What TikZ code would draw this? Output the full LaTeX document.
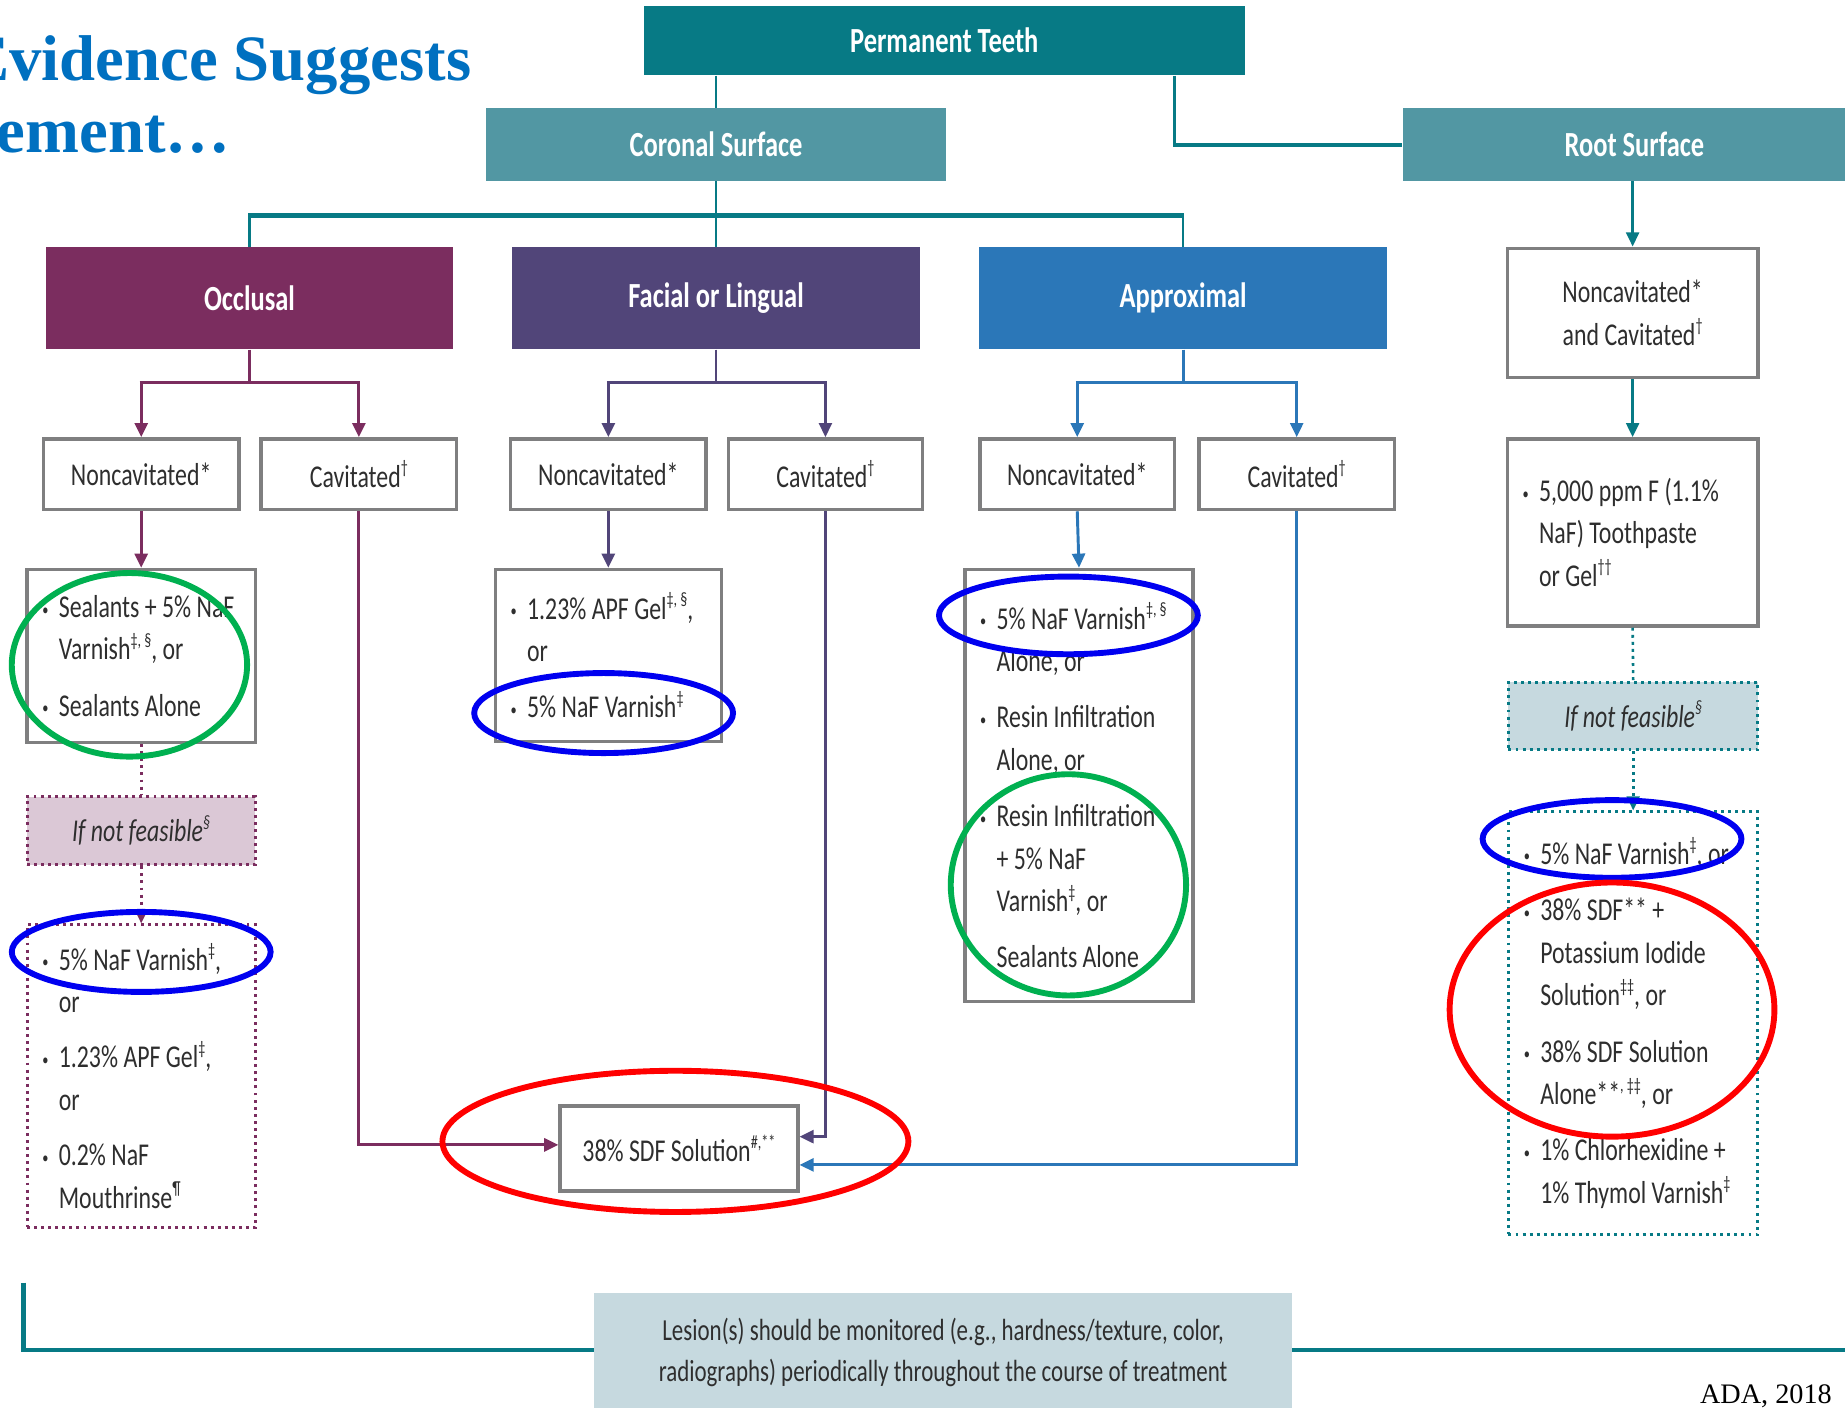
\documentclass[tikz,border=0pt]{standalone}
\usepackage{fontspec}
\usetikzlibrary{arrows.meta,calc}
\newfontfamily\cond{Carlito}[FakeStretch=0.75]
\newfontfamily\titlefont{Liberation Serif}
\definecolor{tealD}{HTML}{077A85}
\definecolor{tealL}{HTML}{5297A3}
\definecolor{cOcc}{HTML}{7B2D5F}
\definecolor{cFac}{HTML}{514579}
\definecolor{cApp}{HTML}{2B77B8}
\definecolor{boxgray}{HTML}{7F7F80}
\definecolor{paleT}{HTML}{C6D9DF}
\definecolor{paleP}{HTML}{DBC8D6}
\definecolor{txt}{HTML}{2E2E2E}
\definecolor{titleblue}{HTML}{0070C0}
\definecolor{ellblue}{HTML}{0000F0}
\definecolor{ellgreen}{HTML}{00B050}
\definecolor{ellred}{HTML}{FF0000}
\newcommand\spr[1]{\raisebox{0.42em}{\fontsize{16}{16}\selectfont #1}}
\newcommand\bul{\makebox[14pt][l]{\raisebox{2pt}{\fontsize{14}{14}\selectfont •}}}
\newcommand\BL[1]{\mbox{\spaceskip=0pt\xspaceskip=0pt\relax\bul#1}}
\newcommand\IL[1]{\mbox{\spaceskip=0pt\xspaceskip=0pt\relax\hspace*{14pt}#1}}
\newcommand\CL[1]{\mbox{\spaceskip=0pt\xspaceskip=0pt\relax#1}}
\tikzset{
  hdr/.style={rectangle, inner sep=0pt, text=white, align=center,
    font=\cond\bfseries\fontsize{30}{30}\selectfont},
  gbox/.style={rectangle, draw=boxgray, line width=3pt, fill=white, inner sep=0pt,
    text=txt, align=center, font=\cond\fontsize{27}{36}\selectfont},
  lbox/.style={gbox, align=left, inner xsep=13pt},
  dotbox/.style={line width=2.5pt, dash pattern=on 2.5pt off 3.5pt},
  tl/.style={draw=tealD, line width=2.2pt},
  tlk/.style={draw=tealD, line width=3.6pt},
  ol/.style={draw=cOcc, line width=2.5pt},
  fl/.style={draw=cFac, line width=2.5pt},
  al/.style={draw=cApp, line width=2.5pt},
  dots/.style={dash pattern=on 2.5pt off 3.5pt},
  arr/.style={-{Triangle[width=11pt,length=12pt]}},
  ell/.style={line width=5pt}
}
\begin{document}
\begin{tikzpicture}[x=1pt,y=-1pt]
\useasboundingbox (0,0) rectangle (1568,1195.8);
\begin{scope}
\clip (0,0) rectangle (1568,1195.8);
\fill[white] (0,0) rectangle (1568,1195.8);

% title
\node[anchor=base west, inner sep=0pt, text=titleblue,
  font=\titlefont\bfseries\fontsize{55}{55}\selectfont] (t1) at (-29,68) {Evidence Suggests};
\node[anchor=base west, inner sep=0pt, text=titleblue,
  font=\titlefont\bfseries\fontsize{55}{55}\selectfont] (t2) at (-3,130) {ement…};

% headers
\node[hdr, fill=tealD, minimum width=511pt, minimum height=59pt] (pt) at (802.5,34.5) {Permanent Teeth};
\node[hdr, fill=tealL, minimum width=391pt, minimum height=62pt] (cor) at (608.5,123) {Coronal Surface};
\node[hdr, fill=tealL, minimum width=394pt, minimum height=62pt] (root) at (1389,123) {Root Surface};
\node[hdr, fill=cOcc, minimum width=346pt, minimum height=87pt] (occ) at (212,253.5) {Occlusal};
\node[hdr, fill=cFac, minimum width=347pt, minimum height=87pt] (fac) at (608.5,253.5) {Facial or Lingual};
\node[hdr, fill=cApp, minimum width=347pt, minimum height=87pt] (app) at (1005.5,253.5) {Approximal};

% level 3
\node[gbox, minimum width=166pt, minimum height=60pt] (on) at (120,403) {Noncavitated*};
\node[gbox, minimum width=166pt, minimum height=60pt] (oc) at (305,403) {Cavitated\spr{†}};
\node[gbox, minimum width=166pt, minimum height=60pt] (fn) at (517,403) {Noncavitated*};
\node[gbox, minimum width=165pt, minimum height=60pt] (fc) at (701.5,403) {Cavitated\spr{†}};
\node[gbox, minimum width=165pt, minimum height=60pt] (an) at (915.5,403) {Noncavitated*};
\node[gbox, minimum width=166pt, minimum height=60pt] (ac) at (1102,403) {Cavitated\spr{†}};

% treatment boxes
\node[lbox, text width=168pt, minimum height=147pt] (ot) at (120,557.5)
  {\BL{Sealants + 5\% NaF}\\\IL{Varnish\spr{‡,\,§}, or}\\[12pt]\BL{Sealants Alone}};
\node[lbox, fill=paleP, draw=cOcc, dotbox, text width=168pt, minimum height=58pt, align=center, inner xsep=13pt] (oif) at (120,706)
  {\itshape\CL{If not feasible\spr{§}}};
\node[lbox, draw=cOcc, dotbox, text width=168pt, minimum height=257pt] (od) at (120,914.5)
  {\BL{5\% NaF Varnish\spr{‡},}\\\IL{or}\\[11pt]\BL{1.23\% APF Gel\spr{‡},}\\\IL{or}\\[11pt]\BL{0.2\% NaF}\\\IL{Mouthrinse\spr{¶}}};
\node[lbox, text width=166pt, minimum height=146pt] (ft) at (517,557)
  {\BL{1.23\% APF Gel\spr{‡,\,§},}\\\IL{or}\\[12pt]\BL{5\% NaF Varnish\spr{‡}}};
\node[lbox, text width=168pt, minimum height=367pt] (at) at (917,667.5)
  {\BL{5\% NaF Varnish\spr{‡,\,§}}\\\IL{Alone, or}\\[12pt]\BL{Resin Infiltration}\\\IL{Alone, or}\\[12pt]\BL{Resin Infiltration}\\\IL{+ 5\% NaF}\\\IL{Varnish\spr{‡}, or}\\[12pt]\IL{Sealants Alone}};
\node[gbox, minimum width=202pt, minimum height=72pt] (sdf) at (577,976) {\CL{38\% SDF Solution\spr{\#,**}}};

% root side
\node[gbox, minimum width=213pt, minimum height=110pt] (rn) at (1387.5,266) {Noncavitated*\\\CL{and Cavitated\spr{†}}};
\node[lbox, text width=187pt, minimum height=159pt] (rt) at (1387.5,452.5)
  {\BL{5,000 ppm F (1.1\%}\\\IL{NaF) Toothpaste}\\\IL{or Gel\spr{††}}};
\node[lbox, fill=paleT, draw=tealD, dotbox, text width=186pt, minimum height=57pt, align=center] (rif) at (1388,608.5)
  {\itshape\CL{If not feasible\spr{§}}};
\node[lbox, draw=tealD, dotbox, text width=186pt, minimum height=359pt] (rd) at (1388,869.5)
  {\BL{5\% NaF Varnish\spr{‡}, or}\\[12pt]\BL{38\% SDF** +}\\\IL{Potassium Iodide}\\\IL{Solution\spr{‡‡}, or}\\[12pt]\BL{38\% SDF Solution}\\\IL{Alone**\spr{,\,‡‡}, or}\\[12pt]\BL{1\% Chlorhexidine +}\\\IL{1\% Thymol Varnish\spr{‡}}};

% teal connectors top
\draw[tl] (pt.south -| cor.north) -- (cor.north);
\coordinate (rj) at ($(pt.south)+(195.5,0)$);
\coordinate (rk) at (rj |- root.west);
\draw[tl] (rj) -- (rk);
\draw[tlk] ($(rk)+(-1.1,0)$) -- (root.west);
\draw[tl] (cor.south) -- (fac.north);
\coordinate (cb) at ($(cor.south)+(0,29)$);
\draw[tlk] ($(cb -| occ.north)+(-1.1,0)$) -- ($(cb -| app.north)+(1.1,0)$);
\draw[tl] (cb -| occ.north) -- (occ.north);
\draw[tl] (cb -| app.north) -- (app.north);

% occlusal branch
\coordinate (ob) at ($(occ.south)+(0,28)$);
\draw[ol] (occ.south) -- (ob);
\draw[ol] ($(ob -| on.north)+(-1.25,0)$) -- ($(ob -| oc.north)+(1.25,0)$);
\draw[ol,arr] (ob -| on.north) -- (on.north);
\draw[ol,arr] (ob -| oc.north) -- (oc.north);
\draw[ol,arr] (on.south) -- (ot.north);
\draw[ol,dots] (ot.south) -- (oif.north);
\draw[ol,dots,arr] (oif.south) -- (od.north);
\draw[ol,arr] (oc.south) |- ($(sdf.west)+(0,-3)$);

% facial branch
\coordinate (fb) at ($(fac.south)+(0,28)$);
\draw[fl] (fac.south) -- (fb);
\draw[fl] ($(fb -| fn.north)+(-1.25,0)$) -- ($(fb -| fc.north)+(1.25,0)$);
\draw[fl,arr] (fb -| fn.north) -- (fn.north);
\draw[fl,arr] (fb -| fc.north) -- (fc.north);
\draw[fl,arr] (fn.south) -- (ft.north);
\draw[fl,arr] (fc.south) |- ($(sdf.east)+(0,-10)$);

% approximal branch
\coordinate (ab) at ($(app.south)+(0,28)$);
\draw[al] (app.south) -- (ab);
\draw[al] ($(ab -| an.north)+(-1.25,0)$) -- ($(ab -| ac.north)+(1.25,0)$);
\draw[al,arr] (ab -| an.north) -- (an.north);
\draw[al,arr] (ab -| ac.north) -- (ac.north);
\draw[al,arr] (an.south) -- (at.north);
\draw[al,arr] (ac.south) |- ($(sdf.east)+(0,14)$);

% root branch
\draw[tl,arr] (root.south -| rn.north) -- (rn.north);
\draw[tl,arr] (rn.south) -- (rt.north);
\draw[tl,dots] (rt.south) -- (rif.north);
\draw[tl,dots,arr] (rif.south) -- (rd.north);

% bottom frame line and monitoring box
\coordinate (bl) at (20,1090);
\coordinate (br) at (1572,1147);
\draw[tlk] (bl) |- (br);
\node[rectangle, fill=paleT, inner sep=0pt, minimum width=593pt, minimum height=101pt, text=txt, align=center,
  font=\cond\fontsize{26}{35}\selectfont] (les) at (801.5,1149.5)
  {\CL{Lesion(s) should be monitored (e.g., hardness/texture, color,}\\\CL{radiographs) periodically throughout the course of treatment}};

\node[anchor=base east, inner sep=0pt, text=black, font=\titlefont\fontsize{24}{24}\selectfont] (ada) at (1557,1193) {ADA, 2018};

% annotation ellipses
\draw[ell, ellgreen] (110,565) ellipse [x radius=100, y radius=78];
\draw[ell, ellblue] (513,606) ellipse [x radius=110, y radius=34];
\draw[ell, ellblue] (908,523) ellipse [x radius=110, y radius=33];
\draw[ell, ellgreen] (908,752) ellipse [x radius=100, y radius=94];
\draw[ell, ellblue] (120,809) ellipse [x radius=110, y radius=34];
\draw[ell, ellred] (574,970) ellipse [x radius=198, y radius=60];
\draw[ell, ellblue] (1370,713) ellipse [x radius=110, y radius=33];
\draw[ell, ellred] (1370,858) ellipse [x radius=138, y radius=108];
\end{scope}
\end{tikzpicture}
\end{document}
